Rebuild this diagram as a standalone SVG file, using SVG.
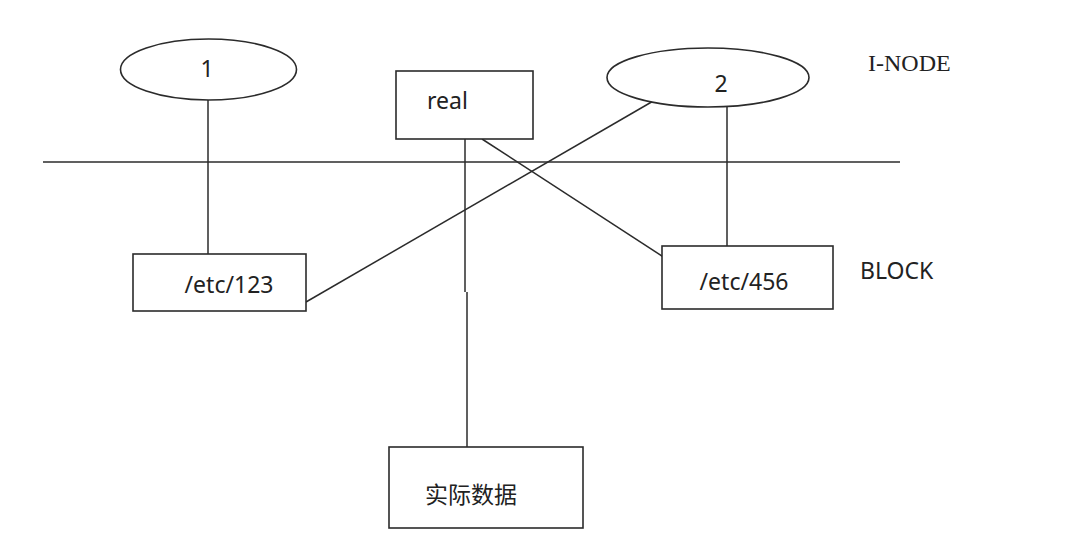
<svg xmlns="http://www.w3.org/2000/svg" width="1080" height="547" viewBox="0 0 1080 547">
<style>
.shape{fill:#fff;stroke:#2b2b2b;stroke-width:1.6}
.conn line{stroke:#2b2b2b;stroke-width:1.5}
.t{font-family:"Noto Sans","Noto Sans CJK SC",sans-serif;font-size:23px;fill:#222}
.s{font-family:"Liberation Serif",serif;font-size:24px;fill:#222}
</style>
<rect width="1080" height="547" fill="#fff"/>
<g class="conn" id="connectors">
<line x1="43" y1="162" x2="900" y2="162"/>
<line x1="208" y1="100" x2="208" y2="254"/>
<line x1="306" y1="302" x2="655" y2="100"/>
<line x1="727" y1="107" x2="727" y2="246"/>
<line x1="465" y1="139" x2="465" y2="292"/>
<line x1="467" y1="292" x2="467" y2="447"/>
<line x1="482" y1="139" x2="665" y2="258"/>
</g>
<g id="node-1">
<ellipse class="shape" cx="208.5" cy="69.5" rx="88" ry="30.5"/>
<text class="t" x="207" y="77" text-anchor="middle">1</text>
</g>
<g id="node-real">
<rect class="shape" x="396" y="71" width="137" height="68"/>
<text class="t" x="427" y="109">real</text>
</g>
<g id="node-2">
<ellipse class="shape" cx="708" cy="77.5" rx="101" ry="29.5"/>
<text class="t" x="721" y="92" text-anchor="middle">2</text>
</g>
<g id="node-etc123">
<rect class="shape" x="133" y="254" width="173" height="57"/>
<text class="t" x="229" y="293" text-anchor="middle">/etc/123</text>
</g>
<g id="node-etc456">
<rect class="shape" x="662" y="246" width="171" height="63"/>
<text class="t" x="744" y="290" text-anchor="middle">/etc/456</text>
</g>
<g id="node-data">
<rect class="shape" x="389" y="447" width="194" height="81"/>
<text class="t" x="471" y="503" text-anchor="middle">实际数据</text>
</g>
<g id="label-inode">
<text class="s" x="868" y="71">I-NODE</text>
</g>
<g id="label-block">
<text class="t" x="860" y="279">BLOCK</text>
</g>
</svg>
